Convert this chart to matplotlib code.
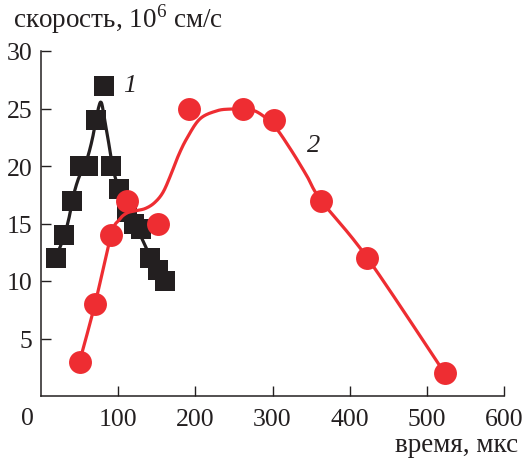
import matplotlib
matplotlib.use('Agg')
import matplotlib.pyplot as plt
import numpy as np

# ── Data ──────────────────────────────────────────────────────────────────────

# series 1: measured points (black squares)
t1 = [20, 30, 40, 51, 61, 71, 81, 91, 101, 112, 120, 129, 141, 152, 161]
v1 = [12, 14, 17, 20, 20, 24, 27, 20, 18, 16, 15, 14.5, 12, 11, 10]

# series 1: fitted curve, traced
t1_fit = [20, 29, 36, 42, 48, 55, 61, 67, 72, 75.5, 77.5, 79.5, 83, 87, 91, 95,
          101, 110, 120, 130, 141]
v1_fit = [12.2, 13.7, 15.4, 17.4, 18.8, 19.9, 20.9, 22.5, 24.3, 25.3, 25.55, 25.2,
          23.8, 22.3, 20.6, 19.3, 18.0, 16.6, 15.2, 13.8, 12.2]

# series 2: measured points (red circles)
t2 = [50, 70, 91, 111, 151, 192, 262, 302, 363, 423, 523]
v2 = [3, 8, 14, 17, 15, 25, 25, 24, 17, 12, 2]

# series 2: fitted curve, traced
t2_fit = [50, 70, 91, 101, 111, 122, 135, 147, 158, 168, 178, 189, 206, 228, 245,
          262, 280, 302, 323, 344, 363, 423, 523]
v2_fit = [3, 8, 14, 15.3, 15.9, 16.1, 16.3, 16.8, 17.7, 19.2, 20.9, 22.4, 24.1,
          24.8, 24.95, 24.95, 24.7, 23.5, 21.5, 19.2, 17, 12, 2]

xticks = [100, 200, 300, 400, 500, 600]
yticks = [5, 10, 15, 20, 25, 30]

BLACK = '#231F20'
RED = '#EE2D32'


def smooth(xs, ys, n=24):
    """Catmull-Rom pass through traced points so the curves draw smoothly."""
    p = np.column_stack([xs, ys]).astype(float)
    p = np.vstack([p[0], p, p[-1]])
    t = np.linspace(0, 1, n, endpoint=False)[:, None]
    out = []
    for i in range(1, len(p) - 2):
        p0, p1, p2, p3 = p[i - 1], p[i], p[i + 1], p[i + 2]
        seg = 0.5 * (2 * p1 + (-p0 + p2) * t
                     + (2 * p0 - 5 * p1 + 4 * p2 - p3) * t ** 2
                     + (-p0 + 3 * p1 - 3 * p2 + p3) * t ** 3)
        out.append(seg)
    out.append(p[-2][None])
    s = np.vstack(out)
    return s[:, 0], s[:, 1]


# ── Figure ────────────────────────────────────────────────────────────────────

plt.rcParams['font.family'] = ['Liberation Serif', 'DejaVu Serif']
plt.rcParams['mathtext.fontset'] = 'custom'
plt.rcParams['mathtext.rm'] = 'Liberation Serif'

fig = plt.figure(figsize=(5.27, 4.60), dpi=100)
ax = fig.add_axes([41 / 527, 1 - 397 / 460, 463 / 527, 345 / 460])

sx, sy = smooth(t1_fit, v1_fit)
ax.plot(sx, sy, color=BLACK, lw=2.3, zorder=2, solid_capstyle='round')
ax.plot(t1, v1, 's', color=BLACK, ms=14, zorder=3, markeredgewidth=0)

sx, sy = smooth(t2_fit, v2_fit)
ax.plot(sx, sy, color=RED, lw=2.3, zorder=4, solid_capstyle='round')
ax.plot(t2, v2, 'o', color=RED, ms=16.5, zorder=5, markeredgewidth=0)

ax.text(115, 27, '1', fontsize=19, style='italic', color=BLACK,
        ha='center', va='center')
ax.text(353, 21.8, '2', fontsize=19, style='italic', color=BLACK,
        ha='center', va='center')

ax.set_xlim(0, 600)
ax.set_ylim(0, 30)
ax.set_xticks(xticks)
ax.set_yticks(yticks)
ax.tick_params(direction='in', length=7, width=1, colors=BLACK,
               labelsize=18.5)
ax.tick_params(axis='x', pad=9)
ax.tick_params(axis='y', pad=6)
for side in ('top', 'right'):
    ax.spines[side].set_visible(False)
for side in ('left', 'bottom'):
    ax.spines[side].set_linewidth(1.1)
    ax.spines[side].set_color(BLACK)

# origin label sits left of the corner
ax.text(-18, -1.0, '0', fontsize=18.5, color=BLACK, ha='center', va='top',
        clip_on=False)

fig.text(13 / 527, 1 - 28 / 460, 'скорость, 10$^6$ см/с', fontsize=19.5,
         color=BLACK, ha='left', va='baseline')
fig.text(518 / 527, 1 - 452 / 460, 'время, мкс', fontsize=19.5,
         color=BLACK, ha='right', va='baseline')

fig.savefig('out.png', dpi=100, facecolor='white')
